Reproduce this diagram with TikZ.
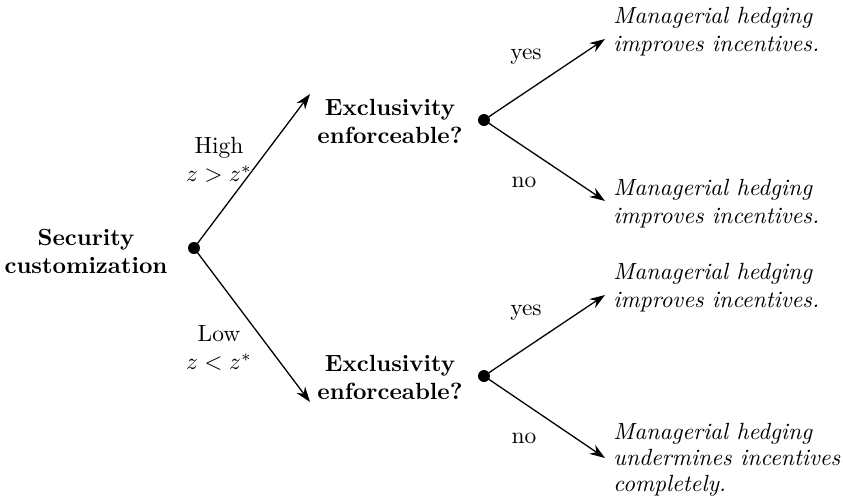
\documentclass[tikz,border=0pt]{standalone}
\usetikzlibrary{arrows.meta}
\begin{document}
\begin{tikzpicture}[x=0.015cm,y=-0.015cm,
  dot/.style={circle,fill=black,inner sep=0pt,minimum size=0.18cm},
  arr/.style={-{Stealth[length=2.3mm,width=1.6mm]},line width=0.55pt},
  leaf/.style={anchor=west,align=left,font=\itshape,inner sep=0pt},
  q/.style={align=center,font=\bfseries,inner sep=0pt},
  lab/.style={align=center,inner sep=0pt}]
\useasboundingbox (0,0) rectangle (843,496);
\node[q] (root) at (86,251) {Security\\customization};
\node[dot] (r) at (194,248) {};
\node[q] (e1) at (390,121) {Exclusivity\\enforceable?};
\node[q] (e2) at (390,377) {Exclusivity\\enforceable?};
\node[dot] (d1) at (484,120) {};
\node[dot] (d2) at (484,376) {};
\coordinate (t1) at (310,94);
\coordinate (t2) at (310,402);
\coordinate (a1) at (605,39);
\coordinate (a2) at (605,201);
\coordinate (a3) at (605,295);
\coordinate (a4) at (605,458);
\draw[arr] (r.center) -- (t1);
\draw[arr] (r.center) -- (t2);
\draw[arr] (d1.center) -- (a1);
\draw[arr] (d1.center) -- (a2);
\draw[arr] (d2.center) -- (a3);
\draw[arr] (d2.center) -- (a4);
\node[lab] (h) at (219,160) {High\\$z>z^*$};
\node[lab] (l) at (219,348) {Low\\$z<z^*$};
\node[lab] (y1) at (526,57) {yes};
\node[lab] (n1) at (524,182) {no};
\node[lab] (y2) at (526,313) {yes};
\node[lab] (n2) at (524,438) {no};
\node[leaf] (L1) at (613,32) {Managerial hedging\\improves incentives.};
\node[leaf] (L2) at (613,204) {Managerial hedging\\improves incentives.};
\node[leaf] (L3) at (613,288) {Managerial hedging\\improves incentives.};
\node[leaf] (L4) at (613,460) {Managerial hedging\\[-1pt]undermines incentives\\[-1pt]completely.};
\end{tikzpicture}
\end{document}
